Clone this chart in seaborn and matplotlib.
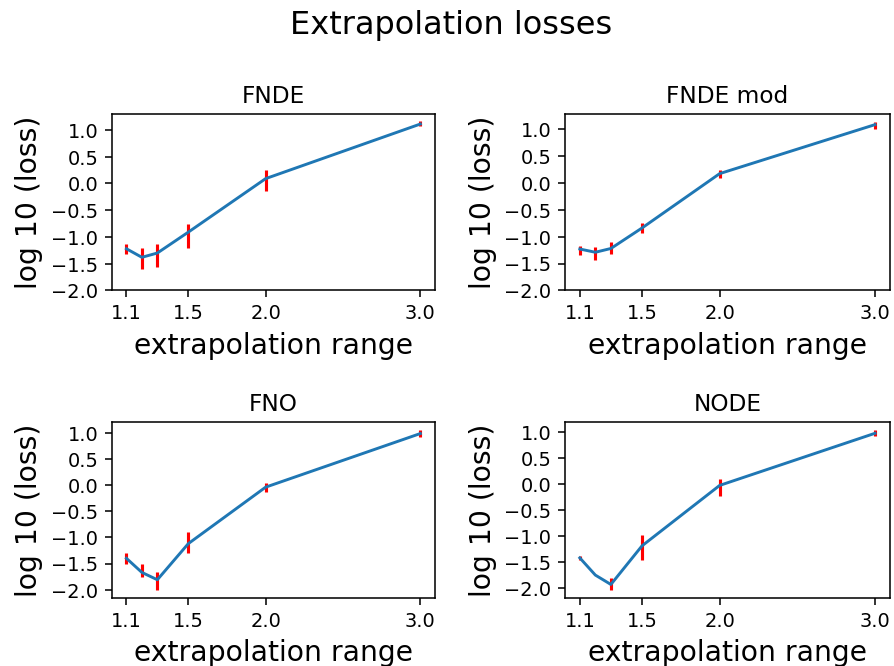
import numpy as np
import pandas as pd
import matplotlib
matplotlib.use("Agg")
import matplotlib.pyplot as plt
import seaborn as sns

# ---- data ----
x_range = [1.1, 1.2, 1.3, 1.5, 2.0, 3.0]
x_ticks = [1.1, 1.5, 2.0, 3.0]
models = ["FNDE", "FNDE mod", "FNO", "NODE"]

fnde_mean = [-1.22, -1.38, -1.30, -0.91, 0.09, 1.11]
fnde_low = [-1.31, -1.60, -1.56, -1.21, -0.14, 1.075]
fnde_high = [-1.14, -1.21, -1.14, -0.75, 0.26, 1.16]

fndemod_mean = [-1.23, -1.29, -1.22, -0.84, 0.17, 1.08]
fndemod_low = [-1.34, -1.43, -1.32, -0.94, 0.09, 0.99]
fndemod_high = [-1.17, -1.20, -1.10, -0.74, 0.23, 1.13]

fno_mean = [-1.40, -1.67, -1.81, -1.12, -0.04, 0.985]
fno_low = [-1.51, -1.76, -2.00, -1.30, -0.13, 0.92]
fno_high = [-1.30, -1.51, -1.67, -0.90, 0.03, 1.05]

node_mean = [-1.42, -1.75, -1.93, -1.19, -0.03, 0.97]
node_low = [-1.47, -1.75, -2.03, -1.46, -0.23, 0.91]
node_high = [-1.38, -1.75, -1.81, -0.99, 0.10, 1.03]

means = [fnde_mean, fndemod_mean, fno_mean, node_mean]
lows = [fnde_low, fndemod_low, fno_low, node_low]
highs = [fnde_high, fndemod_high, fno_high, node_high]
ylims = [(-2.0, 1.29), (-2.0, 1.27), (None, None), (None, None)]

fig = plt.figure(figsize=(6.4, 4.77), dpi=139.7)

W, H = 894.0, 666.0
boxes = [
    (111.7, 114.7, 435.0, 290.7),
    (565.0, 114.7, 889.7, 290.7),
    (111.7, 422.3, 435.0, 597.7),
    (565.0, 422.3, 889.7, 597.7),
]

for i, name in enumerate(models):
    l, t, r, b = boxes[i]
    ax = fig.add_axes([l / W, 1 - b / H, (r - l) / W, (b - t) / H])
    m = np.array(means[i])
    lo = np.array(lows[i])
    hi = np.array(highs[i])
    ax.errorbar(x_range, m, yerr=[m - lo, hi - m], fmt="none",
                ecolor="red", elinewidth=1.6, zorder=1)
    df = pd.DataFrame({"x": x_range, "y": m})
    sns.lineplot(data=df, x="x", y="y", ax=ax, color="#1f77b4",
                 linewidth=1.5, zorder=2)
    ax.set_xticks(x_ticks)
    ax.set_xticklabels([f"{v:.1f}" for v in x_ticks])
    ax.set_yticks([-2.0, -1.5, -1.0, -0.5, 0.0, 0.5, 1.0])
    if ylims[i][0] is not None:
        ax.set_ylim(*ylims[i])
    ax.set_title(name, fontsize=12)
    ax.set_xlabel("extrapolation range", fontsize=14.6, labelpad=4.5)
    ax.set_ylabel("log 10 (loss)", fontsize=14.6)
    ax.tick_params(labelsize=10)

fig.suptitle("Extrapolation losses", fontsize=16.5, x=0.505,
             y=1 - 34.3 / H, va="baseline")

fig.savefig("out.png", dpi=139.7)
